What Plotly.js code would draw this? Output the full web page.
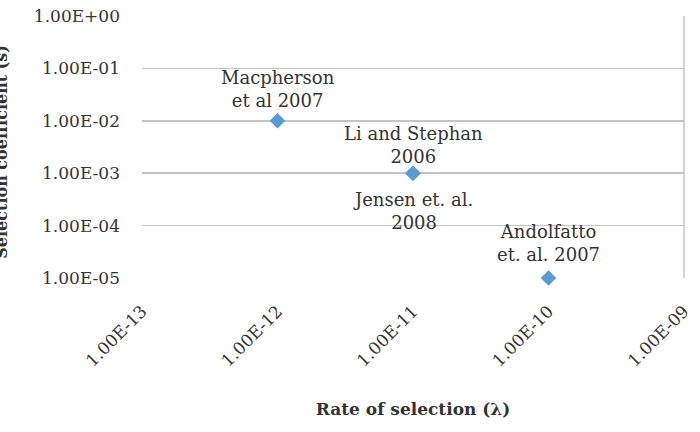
<!DOCTYPE html>
<html>
<head>
<meta charset="utf-8">
<script src="https://cdn.plot.ly/plotly-3.0.1.min.js"></script>
<style>html,body{margin:0;padding:0;background:#fff;}#chart{width:700px;height:432px;}</style>
</head>
<body>
<div id="chart"></div>
<script>
// Data
const rateOfSelection = [1e-12, 1e-11, 1e-11, 1e-10];
const selectionCoefficient = [1e-2, 1e-3, 1e-3, 1e-5];
const studyLabels = ["Macpherson<br>et al 2007", "Li and Stephan<br>2006", "Jensen et. al.<br>2008", "Andolfatto<br>et. al. 2007"];
const labelAbove = [true, true, false, true];
const xTickValues = [1e-13, 1e-12, 1e-11, 1e-10, 1e-9];
const xTickLabels = ["1.00E-13", "1.00E-12", "1.00E-11", "1.00E-10", "1.00E-09"];
const yTickValues = [1e0, 1e-1, 1e-2, 1e-3, 1e-4, 1e-5];
const yTickLabels = ["1.00E+00", "1.00E-01", "1.00E-02", "1.00E-03", "1.00E-04", "1.00E-05"];

const FONT = "DejaVu Serif, Liberation Serif, serif";
const textColor = "#333333";
const labelShift = [8, 4, -14, 11];

const trace = {
  type: "scatter",
  mode: "markers",
  x: rateOfSelection,
  y: selectionCoefficient,
  marker: {symbol: "diamond", size: 12, color: "#5b9bd5"},
  cliponaxis: false,
  hoverinfo: "x+y"
};

const pointLabels = studyLabels.map((t, i) => ({
  text: t,
  xref: "x", yref: "y",
  x: Math.log10(rateOfSelection[i]),
  y: Math.log10(selectionCoefficient[i]),
  xanchor: "center",
  yanchor: labelAbove[i] ? "bottom" : "top",
  yshift: labelShift[i],
  showarrow: false,
  font: {family: FONT, size: 18, color: textColor}
}));

const layout = {
  width: 700, height: 432,
  margin: {l: 142, r: 16, t: 16, b: 154},
  paper_bgcolor: "#ffffff",
  plot_bgcolor: "#ffffff",
  showlegend: false,
  font: {family: FONT, size: 17, color: textColor},
  xaxis: {
    type: "log",
    range: [Math.log10(xTickValues[0]), Math.log10(xTickValues[xTickValues.length - 1])],
    tickmode: "array",
    tickvals: xTickValues,
    ticktext: xTickLabels,
    tickangle: -45,
    showgrid: false,
    zeroline: false,
    showline: false,
    ticks: "",
    ticklabelstandoff: 19,
    tickfont: {family: FONT, size: 17, color: textColor},
    title: {text: "<b>Rate of selection (λ)</b>", font: {family: FONT, size: 17, color: textColor}, standoff: 33},
    automargin: false
  },
  yaxis: {
    type: "log",
    range: [Math.log10(yTickValues[yTickValues.length - 1]), Math.log10(yTickValues[0])],
    tickmode: "array",
    tickvals: yTickValues,
    ticktext: yTickLabels,
    showgrid: true,
    gridcolor: "#c4c4c4",
    gridwidth: 1.5,
    zeroline: false,
    showline: false,
    ticks: "",
    ticklabelstandoff: 21,
    tickfont: {family: FONT, size: 17, color: textColor},
    automargin: false
  },
  shapes: [{
    type: "line", xref: "paper", yref: "paper", x0: 1, x1: 1, y0: 0, y1: 1,
    line: {color: "#c4c4c4", width: 1.5}
  }],
  annotations: pointLabels.concat([{
    text: "<b>Selection coefficient (s)</b>",
    textangle: -90,
    xref: "paper", yref: "paper",
    x: (13 - 142) / 542, y: 0.48,
    xanchor: "right", yanchor: "middle",
    showarrow: false,
    font: {family: FONT, size: 16, color: textColor}
  }])
};

Plotly.newPlot("chart", [trace], layout, {staticPlot: true, displayModeBar: false});
</script>
</body>
</html>
